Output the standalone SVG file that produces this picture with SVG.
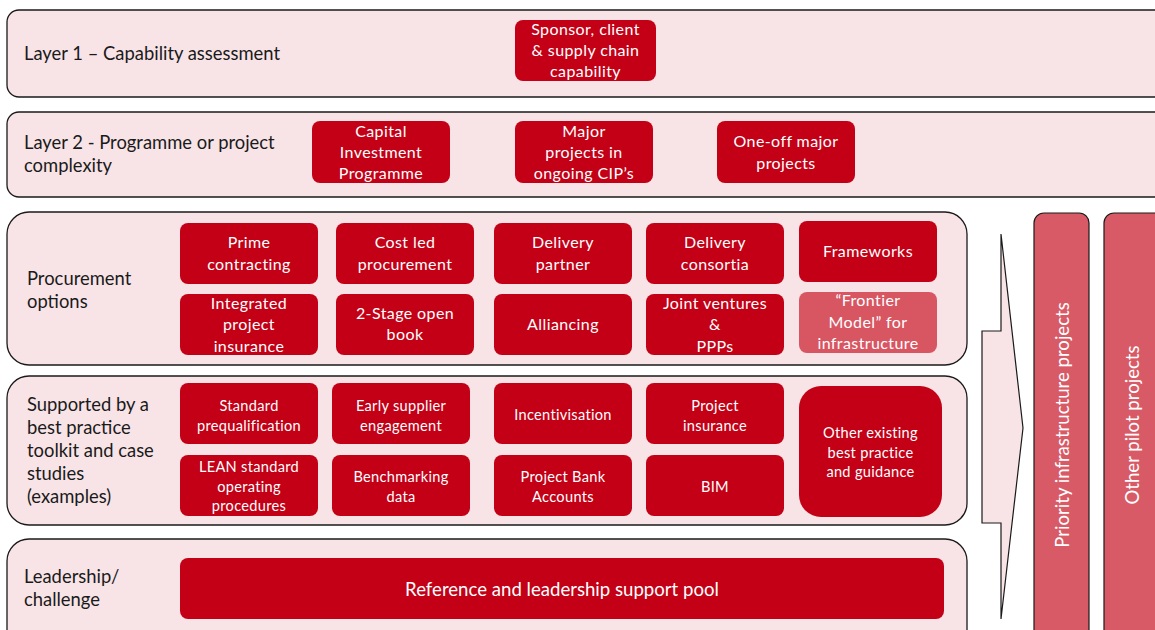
<svg xmlns="http://www.w3.org/2000/svg" width="1155" height="630" viewBox="0 0 1155 630">
  <style>
    .layer { fill: #f8e4e7; stroke: #1a1a1a; stroke-width: 1.3; }
    .box { fill: #c30016; }
    .soft { fill: #d85562; }
    .col { fill: #d85a66; stroke: #1a1a1a; stroke-width: 1.2; }
    .lbl { font-family: Lato, "Liberation Sans", sans-serif; font-size: 18.4px; fill: #1a1a1a; }
    .bt { font-family: Lato, "Liberation Sans", sans-serif; font-size: 16px; letter-spacing: 0.4px; fill: #ffffff; text-anchor: middle; }
    .st { font-family: Lato, "Liberation Sans", sans-serif; font-size: 14.6px; letter-spacing: 0.3px; fill: #ffffff; text-anchor: middle; }
    .big { font-family: Lato, "Liberation Sans", sans-serif; font-size: 18.6px; fill: #ffffff; text-anchor: middle; }
    .vt { font-family: Lato, "Liberation Sans", sans-serif; font-size: 18.6px; fill: #ffffff; text-anchor: middle; }
  </style>

  <!-- Layer 1 -->
  <g id="layer1">
    <rect class="layer" x="7" y="10" width="1170" height="87" rx="12"/>
    <text class="lbl" x="24" y="60">Layer 1 – Capability assessment</text>
  </g>
  <g id="sponsor">
    <rect class="box" x="515" y="20" width="141" height="61" rx="8"/>
    <text class="bt" x="585.5" y="35">Sponsor, client</text>
    <text class="bt" x="585.5" y="56">&amp; supply chain</text>
    <text class="bt" x="585.5" y="77">capability</text>
  </g>

  <!-- Layer 2 -->
  <g id="layer2">
    <rect class="layer" x="7" y="112" width="1170" height="85" rx="12"/>
    <text class="lbl" x="24" y="149">Layer 2 - Programme or project</text>
    <text class="lbl" x="24" y="172">complexity</text>
  </g>
  <g id="cip">
    <rect class="box" x="312" y="121" width="138" height="62" rx="8"/>
    <text class="bt" x="381" y="137">Capital</text>
    <text class="bt" x="381" y="158">Investment</text>
    <text class="bt" x="381" y="179">Programme</text>
  </g>
  <g id="major">
    <rect class="box" x="515" y="121" width="138" height="62" rx="8"/>
    <text class="bt" x="584" y="137">Major</text>
    <text class="bt" x="584" y="158">projects in</text>
    <text class="bt" x="584" y="179">ongoing CIP’s</text>
  </g>
  <g id="oneoff">
    <rect class="box" x="717" y="121" width="138" height="62" rx="8"/>
    <text class="bt" x="786" y="147">One-off major</text>
    <text class="bt" x="786" y="169">projects</text>
  </g>

  <!-- Procurement options -->
  <g id="procurement">
    <rect class="layer" x="7" y="212" width="960" height="153" rx="22"/>
    <text class="lbl" x="27" y="285">Procurement</text>
    <text class="lbl" x="27" y="308">options</text>
  </g>
  <g id="prime">
    <rect class="box" x="180" y="223" width="138" height="61" rx="8"/>
    <text class="bt" x="249" y="248">Prime</text>
    <text class="bt" x="249" y="270">contracting</text>
  </g>
  <g id="costled">
    <rect class="box" x="336" y="223" width="138" height="61" rx="8"/>
    <text class="bt" x="405" y="248">Cost led</text>
    <text class="bt" x="405" y="270">procurement</text>
  </g>
  <g id="deliverypartner">
    <rect class="box" x="494" y="223" width="138" height="61" rx="8"/>
    <text class="bt" x="563" y="248">Delivery</text>
    <text class="bt" x="563" y="270">partner</text>
  </g>
  <g id="consortia">
    <rect class="box" x="646" y="223" width="138" height="61" rx="8"/>
    <text class="bt" x="715" y="248">Delivery</text>
    <text class="bt" x="715" y="270">consortia</text>
  </g>
  <g id="frameworks">
    <rect class="box" x="799" y="221" width="138" height="61" rx="8"/>
    <text class="bt" x="868" y="257">Frameworks</text>
  </g>
  <g id="insurance">
    <rect class="box" x="180" y="294" width="138" height="61" rx="8"/>
    <text class="bt" x="249" y="309">Integrated</text>
    <text class="bt" x="249" y="330">project</text>
    <text class="bt" x="249" y="352">insurance</text>
  </g>
  <g id="twostage">
    <rect class="box" x="336" y="294" width="138" height="61" rx="8"/>
    <text class="bt" x="405" y="319">2-Stage open</text>
    <text class="bt" x="405" y="340">book</text>
  </g>
  <g id="alliancing">
    <rect class="box" x="494" y="294" width="138" height="61" rx="8"/>
    <text class="bt" x="563" y="330">Alliancing</text>
  </g>
  <g id="jv">
    <rect class="box" x="646" y="294" width="138" height="61" rx="8"/>
    <text class="bt" x="715" y="309">Joint ventures</text>
    <text class="bt" x="715" y="330">&amp;</text>
    <text class="bt" x="715" y="352">PPPs</text>
  </g>
  <g id="frontier">
    <rect class="soft" x="799" y="292" width="138" height="61" rx="8"/>
    <text class="bt" x="868" y="306">“Frontier</text>
    <text class="bt" x="868" y="328">Model” for</text>
    <text class="bt" x="868" y="349">infrastructure</text>
  </g>

  <!-- Toolkit -->
  <g id="toolkit">
    <rect class="layer" x="7" y="376" width="960" height="149" rx="22"/>
    <text class="lbl" x="27" y="411">Supported by a</text>
    <text class="lbl" x="27" y="434">best practice</text>
    <text class="lbl" x="27" y="457">toolkit  and case</text>
    <text class="lbl" x="27" y="480">studies</text>
    <text class="lbl" x="27" y="503">(examples)</text>
  </g>
  <g id="prequal">
    <rect class="box" x="180" y="383" width="138" height="61" rx="8"/>
    <text class="st" x="249" y="411">Standard</text>
    <text class="st" x="249" y="431">prequalification</text>
  </g>
  <g id="early">
    <rect class="box" x="332" y="383" width="138" height="61" rx="8"/>
    <text class="st" x="401" y="411">Early supplier</text>
    <text class="st" x="401" y="431">engagement</text>
  </g>
  <g id="incent">
    <rect class="box" x="494" y="383" width="138" height="61" rx="8"/>
    <text class="st" x="563" y="420">Incentivisation</text>
  </g>
  <g id="projins">
    <rect class="box" x="646" y="383" width="138" height="61" rx="8"/>
    <text class="st" x="715" y="411">Project</text>
    <text class="st" x="715" y="431">insurance</text>
  </g>
  <g id="lean">
    <rect class="box" x="180" y="455" width="138" height="61" rx="8"/>
    <text class="st" x="249" y="472">LEAN standard</text>
    <text class="st" x="249" y="492">operating</text>
    <text class="st" x="249" y="511">procedures</text>
  </g>
  <g id="bench">
    <rect class="box" x="332" y="455" width="138" height="61" rx="8"/>
    <text class="st" x="401" y="482">Benchmarking</text>
    <text class="st" x="401" y="502">data</text>
  </g>
  <g id="pba">
    <rect class="box" x="494" y="455" width="138" height="61" rx="8"/>
    <text class="st" x="563" y="482">Project Bank</text>
    <text class="st" x="563" y="502">Accounts</text>
  </g>
  <g id="bim">
    <rect class="box" x="646" y="455" width="138" height="61" rx="8"/>
    <text class="st" x="715" y="492">BIM</text>
  </g>
  <g id="other">
    <rect class="box" x="799" y="386" width="143" height="131" rx="22"/>
    <text class="st" x="870.5" y="438">Other existing</text>
    <text class="st" x="870.5" y="458">best practice</text>
    <text class="st" x="870.5" y="477">and guidance</text>
  </g>

  <!-- Leadership -->
  <g id="leadership">
    <rect class="layer" x="7" y="539" width="960" height="120" rx="22"/>
    <text class="lbl" x="24" y="583">Leadership/</text>
    <text class="lbl" x="24" y="606">challenge</text>
  </g>
  <g id="pool">
    <rect class="box" x="180" y="558" width="764" height="61" rx="8"/>
    <text class="big" x="562" y="596">Reference and leadership support pool</text>
  </g>

  <!-- Flow arrow into the project columns -->
  <g id="connectors">
    <polygon points="1001,234 1023,428 1001,619 1001,523 982,523 982,331 1001,331" fill="#f8e4e7" stroke="#1a1a1a" stroke-width="1.2"/>
  </g>

  <!-- Project columns -->
  <g id="priority">
    <rect class="col" x="1034" y="213" width="55" height="440" rx="10"/>
    <text class="vt" transform="translate(1069,425) rotate(-90)">Priority infrastructure projects</text>
  </g>
  <g id="pilot">
    <rect class="col" x="1104" y="213" width="70" height="440" rx="10"/>
    <text class="vt" transform="translate(1139,425) rotate(-90)">Other pilot projects</text>
  </g>
</svg>
